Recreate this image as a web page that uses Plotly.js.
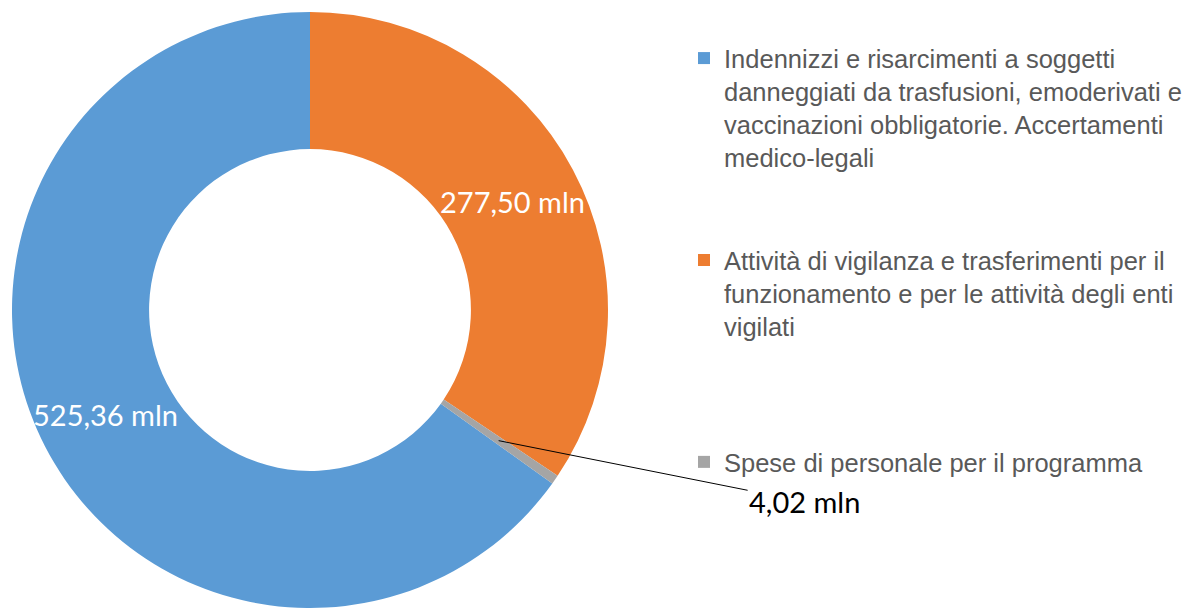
<!DOCTYPE html>
<html>
<head>
<meta charset="utf-8">
<script src="https://cdn.plot.ly/plotly-3.0.1.min.js"></script>
<style>html,body{margin:0;padding:0;background:#fff;}#chart{width:1199px;height:608px;}</style>
</head>
<body>
<div id="chart"></div>
<script>
// ---- data ----
const categories = [
  "Indennizzi e risarcimenti a soggetti<br>danneggiati da trasfusioni, emoderivati e<br>vaccinazioni obbligatorie. Accertamenti<br>medico-legali<br> <br> ",
  "Attività di vigilanza e trasferimenti per il<br>funzionamento e per le attività degli enti<br>vigilati<br> <br> <br> ",
  "Spese di personale per il programma"
];
const values = [525.36, 277.50, 4.02];
const valueLabels = ["525,36 mln", "277,50 mln", "4,02 mln"];
const colors = ["#5B9BD5", "#ED7D31", "#A5A5A5"];

// ---- geometry ----
const W = 1199, H = 608;
const dom = {x: [12 / W, 608 / W], y: [0, 596 / H]};
const hole = 0.54;

const total = values.reduce((a, b) => a + b, 0);
// blue starts right after the grey slice, so that orange begins at 12 o'clock
const rotation = (values[1] + values[2]) / total * 360;

const Rpx = Math.min((dom.x[1] - dom.x[0]) * W, (dom.y[1] - dom.y[0]) * H) / 2;
const rMid = Rpx * (1 + hole) / 2;
const cx = (dom.x[0] + dom.x[1]) / 2, cy = (dom.y[0] + dom.y[1]) / 2;

// mid-angle (clockwise from 12 o'clock) of each slice, derived from the values
const midPoints = [];
let acc = rotation;
values.forEach(v => {
  const span = v / total * 360;
  const a = (acc + span / 2) * Math.PI / 180;
  midPoints.push({x: cx + rMid * Math.sin(a) / W, y: cy + rMid * Math.cos(a) / H});
  acc += span;
});

const trace = {
  type: "pie",
  labels: categories,
  values: values,
  textinfo: "none",
  hole: hole,
  sort: false,
  direction: "clockwise",
  rotation: rotation,
  domain: dom,
  marker: {colors: colors, line: {width: 0}},
  hoverinfo: "none"
};

const labelFont = {family: "Lato, 'Open Sans', sans-serif", size: 29};

const layout = {
  width: W, height: H,
  margin: {l: 0, r: 0, t: 0, b: 0, autoexpand: false},
  paper_bgcolor: "#ffffff",
  showlegend: true,
  legend: {
    x: 684 / W, y: 1 - 35 / H, xanchor: "left", yanchor: "top",
    valign: "top",
    font: {family: "'Liberation Sans', Arial, sans-serif", size: 25.5, color: "#595959"},
    itemclick: false, itemdoubleclick: false
  },
  annotations: [
    {x: midPoints[0].x, y: midPoints[0].y, xref: "paper", yref: "paper", showarrow: false,
     xanchor: "center", yanchor: "middle",
     text: valueLabels[0], font: Object.assign({color: "#ffffff"}, labelFont)},
    {x: midPoints[1].x, y: midPoints[1].y, xref: "paper", yref: "paper", showarrow: false,
     xanchor: "center", yanchor: "middle",
     text: valueLabels[1], font: Object.assign({color: "#ffffff"}, labelFont)},
    {x: midPoints[2].x, y: midPoints[2].y, xref: "paper", yref: "paper",
     text: valueLabels[2],
     showarrow: true, arrowhead: 0, arrowwidth: 1, arrowcolor: "#000000",
     ax: 306, ay: 61,
     font: Object.assign({color: "#000000"}, labelFont)}
  ]
};

Plotly.newPlot("chart", [trace], layout, {displayModeBar: false, staticPlot: true});
</script>
</body>
</html>
